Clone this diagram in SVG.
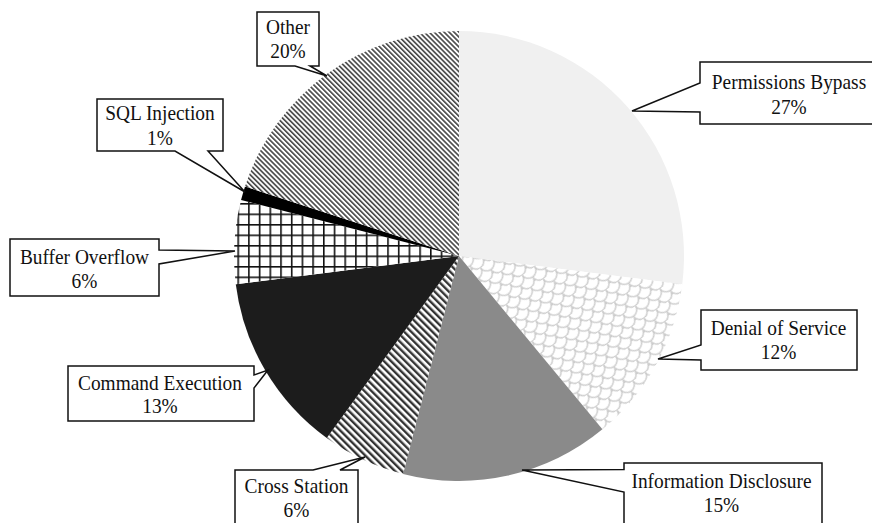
<svg xmlns="http://www.w3.org/2000/svg" width="872" height="523" viewBox="0 0 872 523">
<style>
.lbl{font-family:"Liberation Serif","Times New Roman",serif;font-size:22px;text-anchor:middle;fill:#111}
.call{fill:#fff;stroke:#111;stroke-width:1.5;stroke-linejoin:miter}
</style>
<defs>
<pattern id="pOther" width="3.5" height="3.5" patternUnits="userSpaceOnUse" patternTransform="rotate(-45)">
<rect width="3.5" height="3.5" fill="#fff"/>
<rect x="0" y="0" width="1.6" height="3.5" fill="#444"/>
</pattern>
<pattern id="pCross" width="5" height="5" patternUnits="userSpaceOnUse" patternTransform="rotate(-45)">
<rect width="5" height="5" fill="#fff"/>
<rect x="0" y="0" width="2.4" height="5" fill="#333"/>
</pattern>
<pattern id="pGrid" width="10.7" height="10.5" x="2" y="3.5" patternUnits="userSpaceOnUse">
<rect width="10.7" height="10.5" fill="#fff"/>
<rect x="0" y="0" width="1.6" height="10.5" fill="#111"/>
<rect x="0" y="0" width="10.7" height="1.6" fill="#111"/>
</pattern>
<pattern id="pScale" width="15" height="15" patternUnits="userSpaceOnUse" patternTransform="rotate(-35)">
<rect width="15" height="15" fill="#fff"/>
<path d="M0,0 A7.5,7.5 0 0 0 15,0 M-7.5,7.5 A7.5,7.5 0 0 0 7.5,7.5 M7.5,7.5 A7.5,7.5 0 0 0 22.5,7.5 M0,15 A7.5,7.5 0 0 0 15,15" fill="none" stroke="#cdcdcd" stroke-width="1.4"/>
</pattern>
</defs>
<rect width="872" height="523" fill="#fff"/>

<g id="slice-permissions">
<path d="M459,256 L459,31 A225,225 0 0 1 682.22,284.2 Z" fill="#f0f0f0"/>
</g>
<g id="slice-dos">
<path d="M459,256 L682.22,284.2 A225,225 0 0 1 602.42,429.36 Z" fill="url(#pScale)"/>
</g>
<g id="slice-info">
<path d="M459,256 L602.42,429.36 A225,225 0 0 1 403.04,473.93 Z" fill="#8a8a8a"/>
</g>
<g id="slice-cross">
<path d="M459,256 L403.04,473.93 A225,225 0 0 1 326.75,438.03 Z" fill="url(#pCross)"/>
</g>
<g id="slice-command">
<path d="M459,256 L326.75,438.03 A225,225 0 0 1 235.78,284.2 Z" fill="#1c1c1c"/>
</g>
<g id="slice-buffer">
<path d="M459,256 L235.78,284.2 A225,225 0 0 1 241.07,200.04 Z" fill="url(#pGrid)"/>
</g>
<g id="slice-sql">
<path d="M459,256 L241.07,200.04 A225,225 0 0 1 245.01,186.47 Z" fill="#000"/>
</g>
<g id="slice-other">
<path d="M459,256 L245.01,186.47 A225,225 0 0 1 459,31 Z" fill="url(#pOther)"/>
</g>

<g id="connectors">
<path class="call" d="M257,12 H319 V66 H310 L327,76 L295,66 H257 Z"/>
<path class="call" d="M97,99 H223 V151 H208 L245,192 L175,151 H97 Z"/>
<path class="call" d="M700,62 H880 V124 H700 V112 L632,111 L700,83 Z"/>
<path class="call" d="M701,310 H857 V370 H701 V360 L658,359 L701,345 Z"/>
<path class="call" d="M624,463 H822 V530 H624 V492 L522,470 L624,469.5 Z"/>
<path class="call" d="M235,470 H313 L365,457 L340,470 H358 V530 H235 Z"/>
<path class="call" d="M68,366 H254 V375 L268,370 L254,388 V421 H68 Z"/>
<path class="call" d="M10,239 H159 V250 L235,251 L159,264 V296 H10 Z"/>
</g>

<g transform="scale(0.88,1)">
<g id="label-other"><text class="lbl" x="327.3" y="34">Other</text><text class="lbl" x="327.3" y="58">20%</text></g>
<g id="label-sql"><text class="lbl" x="181.8" y="120">SQL Injection</text><text class="lbl" x="181.8" y="145">1%</text></g>
<g id="label-permissions"><text class="lbl" x="896.6" y="89">Permissions Bypass</text><text class="lbl" x="896.6" y="114">27%</text></g>
<g id="label-dos"><text class="lbl" x="884.7" y="335">Denial of Service</text><text class="lbl" x="884.7" y="359">12%</text></g>
<g id="label-info"><text class="lbl" x="819.9" y="488">Information Disclosure</text><text class="lbl" x="819.9" y="512">15%</text></g>
<g id="label-cross"><text class="lbl" x="336.9" y="493">Cross Station</text><text class="lbl" x="336.9" y="517">6%</text></g>
<g id="label-command"><text class="lbl" x="181.8" y="390">Command Execution</text><text class="lbl" x="181.8" y="413">13%</text></g>
<g id="label-buffer"><text class="lbl" x="96" y="264">Buffer Overflow</text><text class="lbl" x="96" y="288">6%</text></g>
</g>
</svg>
